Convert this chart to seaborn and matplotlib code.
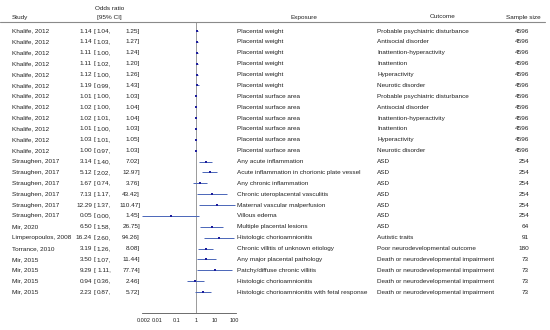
import numpy as np
import pandas as pd
import matplotlib
matplotlib.use("Agg")
import matplotlib.pyplot as plt
import matplotlib.transforms as mtransforms
from matplotlib.lines import Line2D
import seaborn as sns

studies = ["Khalife, 2012"] * 12 + ["Straughen, 2017"] * 6 + [
    "Mir, 2020", "Limperopoulos, 2008", "Torrance, 2010"] + ["Mir, 2015"] * 4
odds = [1.14, 1.14, 1.11, 1.11, 1.12, 1.19, 1.01, 1.02, 1.02, 1.01, 1.03, 1.00,
        3.14, 5.12, 1.67, 7.13, 12.29, 0.05, 6.50, 16.24, 3.19, 3.50, 9.29, 0.94, 2.23]
lower = [1.04, 1.03, 1.00, 1.02, 1.00, 0.99, 1.00, 1.00, 1.01, 1.00, 1.01, 0.97,
         1.40, 2.02, 0.74, 1.17, 1.37, 0.00, 1.58, 2.60, 1.26, 1.07, 1.11, 0.36, 0.87]
upper = [1.25, 1.27, 1.24, 1.20, 1.26, 1.43, 1.03, 1.04, 1.04, 1.03, 1.05, 1.03,
         7.02, 12.97, 3.76, 43.42, 110.47, 1.45, 26.75, 94.26, 8.08, 11.44, 77.74, 2.46, 5.72]
exposures = ["Placental weight"] * 6 + ["Placental surface area"] * 6 + [
    "Any acute inflammation", "Acute inflammation in chorionic plate vessel",
    "Any chronic inflammation", "Chronic uteroplacental vasculitis",
    "Maternal vascular malperfusion", "Villous edema", "Multiple placental lesions",
    "Histologic chorioamnionitis", "Chronic villitis of unknown etiology",
    "Any major placental pathology", "Patchy/diffuse chronic villitis",
    "Histologic chorioamnionitis", "Histologic chorioamnionitis with fetal response"]
outcome_set = ["Probable psychiatric disturbance", "Antisocial disorder",
               "Inattention-hyperactivity", "Inattention", "Hyperactivity",
               "Neurotic disorder"]
outcomes = outcome_set * 2 + ["ASD"] * 7 + ["Autistic traits",
    "Poor neurodevelopmental outcome"] + ["Death or neurodevelopmental impairment"] * 4
sample_sizes = [4596] * 12 + [254] * 6 + [64, 91, 180] + [73] * 4
xticks = [0.002, 0.01, 0.1, 1, 10, 100]
xtick_labels = ["0.002", "0.01", "0.1", "1", "10", "100"]

df = pd.DataFrame({"study": studies, "or": odds, "lo": lower, "hi": upper,
                   "exposure": exposures, "outcome": outcomes, "n": sample_sizes})
df["row"] = np.arange(len(df))

sns.set_style("white")
plt.rcParams["font.family"] = ["Liberation Sans", "DejaVu Sans"]

W, H = 550, 330
fig = plt.figure(figsize=(5.5, 3.3), dpi=100)
ax = fig.add_axes([142 / W, 17 / H, 94 / W, 291 / H])
ax.set_xscale("log")
xmin, xmax = 0.00154, 121
ax.set_xlim(xmin, xmax)
ax.set_ylim(25.93, -0.83)

fs = 4.6
txt_col = "#222222"
line_blue = "#4a66b8"
pt_blue = "#1c1c9c"

# reference line at OR = 1
ax.axvline(1, color="#9a9a9a", lw=0.7, zorder=1)

# confidence intervals
lo_clip = np.clip(df["lo"].values, xmin, None)
ax.hlines(df["row"], lo_clip, df["hi"], color=line_blue, lw=0.7, zorder=2)
sns.scatterplot(data=df, x="or", y="row", marker="s", s=4, color=pt_blue,
                edgecolor=pt_blue, linewidth=0, ax=ax, zorder=3, legend=False)

for side in ["top", "right", "left"]:
    ax.spines[side].set_visible(False)
ax.spines["bottom"].set_color("#555555")
ax.spines["bottom"].set_linewidth(0.6)
ax.spines["bottom"].set_bounds(xmin, xmax)
ax.set_xticks(xticks)
ax.set_xticklabels(xtick_labels)
ax.minorticks_off()
ax.set_yticks([])
ax.tick_params(axis="x", length=2, width=0.6, color="#555555", labelsize=4.0,
               pad=1.5, labelcolor=txt_col)
ax.set_xlabel("")
ax.set_ylabel("")
ax.patch.set_alpha(0)

# text columns: x in figure px, y in data rows
trans = mtransforms.blended_transform_factory(fig.transFigure, ax.transData)
for _, r in df.iterrows():
    y = r["row"]
    kw = dict(transform=trans, fontsize=fs, color=txt_col, va="center")
    ax.text(12 / W, y, r["study"], ha="left", **kw)
    ax.text(92 / W, y, f"{r['or']:.2f}", ha="right", **kw)
    ax.text(93.5 / W, y, "[", ha="left", **kw)
    ax.text(111 / W, y, f"{r['lo']:.2f},", ha="right", **kw)
    ax.text(140 / W, y, f"{r['hi']:.2f}]", ha="right", **kw)
    ax.text(237 / W, y, r["exposure"], ha="left", **kw)
    ax.text(377 / W, y, r["outcome"], ha="left", **kw)
    ax.text(529 / W, y, str(r["n"]), ha="right", **kw)

# headers
hkw = dict(fontsize=fs, color=txt_col, va="center")
fig.text(12 / W, 1 - 17 / H, "Study", ha="left", **hkw)
fig.text(110 / W, 1 - 8 / H, "Odds ratio", ha="center", **hkw)
fig.text(109 / W, 1 - 17 / H, "[95% CI]", ha="center", **hkw)
fig.text(304 / W, 1 - 17 / H, "Exposure", ha="center", **hkw)
fig.text(443 / W, 1 - 17 / H, "Outcome", ha="center", **hkw)
fig.text(523 / W, 1 - 17 / H, "Sample size", ha="center", **hkw)
fig.add_artist(Line2D([0, 545 / W], [1 - 22 / H, 1 - 22 / H],
                      transform=fig.transFigure, color="#8a8a8a", lw=0.8))

fig.savefig("out.png", dpi=100)
plt.close(fig)
